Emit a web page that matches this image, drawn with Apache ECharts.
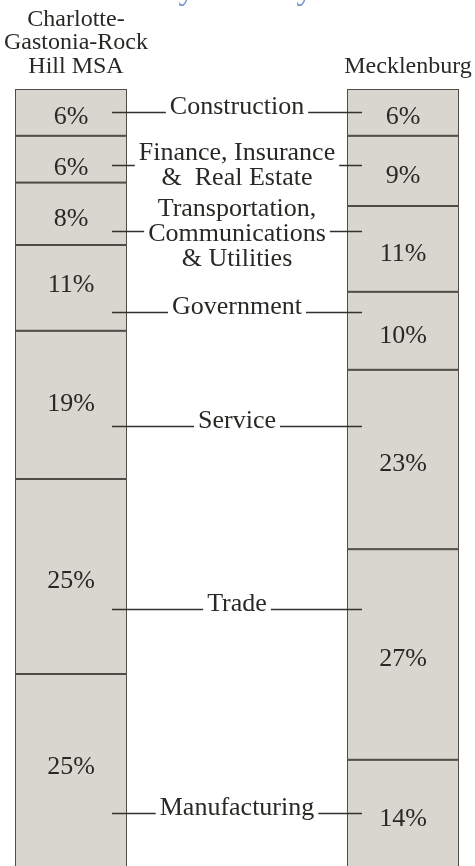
<!DOCTYPE html>
<html>
<head>
<meta charset="utf-8">
<script src="https://cdn.jsdelivr.net/npm/echarts@6/dist/echarts.min.js"></script>
<style>
  html, body { margin: 0; padding: 0; background: #fff; }
  #chart { width: 475px; height: 866px; }
</style>
</head>
<body>
<div id="chart"></div>
<script>
// Areas compared, one stacked column each
const areas = ['Charlotte-\nGastonia-Rock\nHill MSA', 'Mecklenburg'];

// Industries, top of the column to the bottom
const industries = [
  'Construction',
  'Finance, Insurance\n&  Real Estate',
  'Transportation,\nCommunications\n& Utilities',
  'Government',
  'Service',
  'Trade',
  'Manufacturing'
];

// Share of employment (%) per industry
const msaShare = [6, 6, 8, 11, 19, 25, 25];
const mecklenburgShare = [6, 9, 11, 10, 23, 27, 14];

// Whole column (%), drawn behind the segments as their outline
const columnTotal = [100, 100];

// Height (in % of the column) where each industry's leader line runs
const leaderLevel = [2.9, 9.7, 18.2, 28.6, 43.2, 66.7, 92.8];

// Nudges for the MSA column's percent labels (px)
const msaLabelShift = [0, 4, 0, -8, -6, 0, -9];

const SERIF = '"Liberation Serif", "DejaVu Serif", serif';
const FILL = '#d8d6ce';
const EDGE = '#4e4c46';
const INK = '#2a2824';
const LABEL_DROP = 5;

const chart = echarts.init(document.getElementById('chart'), null, { renderer: 'canvas' });

const backdrop = {
  name: 'column',
  type: 'bar',
  stack: 'outline',
  barWidth: 112,
  barGap: '-100%',
  clip: false,
  silent: true,
  itemStyle: { color: EDGE },
  data: columnTotal,
  z: 1
};

const barSeries = industries.map((name, i) => ({
  name: name,
  type: 'bar',
  stack: 'share',
  barWidth: 112,
  barGap: '-100%',
  clip: false,
  silent: true,
  itemStyle: { color: FILL, borderColor: EDGE, borderWidth: 1 },
  label: {
    show: true,
    position: 'inside',
    formatter: '{c}%',
    fontFamily: SERIF,
    fontSize: 26,
    color: INK,
    offset: [0, LABEL_DROP]
  },
  data: [
    { value: msaShare[i], label: { offset: [0, LABEL_DROP + msaLabelShift[i]] } },
    { value: mecklenburgShare[i] }
  ],
  z: 2
}));

// Leader lines with the industry name between the two columns
const leaderSeries = {
  type: 'custom',
  silent: true,
  clip: false,
  z: 5,
  data: leaderLevel.map((lv, i) => [0, lv, i]),
  renderItem: function (params, api) {
    const i = api.value(2);
    const left = api.coord([0, api.value(1)]);
    const right = api.coord([1, api.value(1)]);
    const y = Math.round(left[1]) + 0.5;
    const x0 = left[0] + 41;
    const x1 = right[0] - 41;
    const label = industries[i];
    const lines = label.split('\n').length;
    // single-line names sit on the line; stacked names centre on it
    const cy = (lines === 1 ? y - 8 : (lines === 2 ? y - 3 : y)) + 3;
    return {
      type: 'group',
      children: [
        {
          type: 'line',
          shape: { x1: x0, y1: y, x2: x1, y2: y },
          style: { stroke: '#33312c', lineWidth: 1.3 }
        },
        {
          type: 'text',
          x: (x0 + x1) / 2,
          y: cy,
          style: {
            text: label,
            align: 'center',
            verticalAlign: 'middle',
            fontFamily: SERIF,
            fontSize: 26,
            lineHeight: 25,
            fill: INK,
            backgroundColor: '#ffffff',
            padding: [0, 4]
          }
        }
      ]
    };
  }
};

chart.setOption({
  animation: false,
  backgroundColor: '#ffffff',
  graphic: [
    {
      type: 'text',
      left: 'center',
      top: -26,
      style: {
        text: 'by Industry',
        fontFamily: SERIF,
        fontSize: 33,
        fill: '#7597c8'
      }
    }
  ],
  grid: { top: 89, left: 71, right: 72, height: 780, outerBoundsMode: 'none', containLabel: false },
  xAxis: {
    type: 'category',
    data: areas,
    position: 'top',
    boundaryGap: false,
    axisLine: { show: false },
    axisTick: { show: false },
    axisLabel: {
      margin: 11,
      fontFamily: SERIF,
      fontSize: 24,
      lineHeight: 23.5,
      color: INK,
      interval: 0,
      padding: [0, 0, 0, 10]
    }
  },
  yAxis: {
    type: 'value',
    inverse: true,
    min: 0,
    max: 100,
    show: false
  },
  series: [backdrop].concat(barSeries, [leaderSeries])
});
</script>
</body>
</html>
